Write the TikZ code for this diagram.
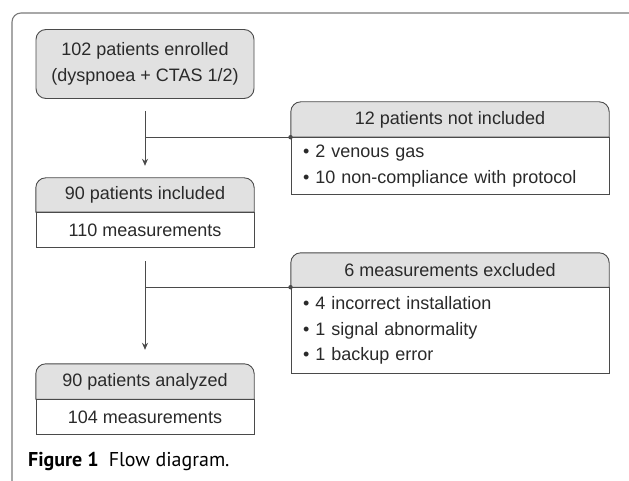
\documentclass[tikz,border=0pt]{standalone}
\usepackage{fontspec}
\setmainfont{Liberation Sans}
\newfontfamily\capfont{PT Sans}
\usetikzlibrary{arrows.meta}
\definecolor{hdrgray}{HTML}{E1E1E1}
\definecolor{linegray}{HTML}{4A4A4A}
\definecolor{framegray}{HTML}{7A7A7A}
\definecolor{txtgray}{HTML}{2A2A2A}
\tikzset{
  boxtext/.style={font=\fontsize{18}{25.5}\selectfont, text=txtgray},
  hdrbox/.style={boxtext, minimum width=218pt, inner sep=0pt},
  bodybox/.style={boxtext, draw=linegray, line width=0.9pt, fill=white, inner sep=0pt},
  listbox/.style={boxtext, draw=linegray, line width=0.9pt, fill=white, inner xsep=12pt, inner ysep=0pt, align=left},
  outl/.style={draw=linegray, line width=0.9pt, fill=hdrgray},
  flowarrow/.style={draw=linegray, line width=0.9pt, -{Stealth[length=7pt,width=6pt]}},
  branch/.style={draw=linegray, line width=0.9pt},
}
\begin{document}
\begin{tikzpicture}[x=1pt,y=-1pt]
\clip (0,0) rectangle (629,481);
\fill[white] (0,0) rectangle (629,481);
% frame
\draw[framegray, line width=1.1pt, rounded corners=9pt] (12,490) -- (12,13) -- (640,13);

% box 1
\node[boxtext, draw=linegray, line width=0.9pt, fill=hdrgray, rounded corners=10pt,
      minimum width=218pt, minimum height=69pt, align=center, inner sep=0pt]
      (b1) at (145,64) {102 patients enrolled\\(dyspnoea + CTAS 1/2)};

% box 3: included
\node[hdrbox, minimum height=34pt] (h2) at (145,195) {};
\draw[outl] (h2.south west) [rounded corners=10pt] -- (h2.north west) -- (h2.north east) [sharp corners] -- (h2.south east) -- cycle;
\node[boxtext] at (h2.center) {90 patients included};
\node[bodybox, minimum width=218pt, minimum height=35pt, anchor=north] (m2) at (h2.south) {110 measurements};

% box 5: analyzed
\node[hdrbox, minimum height=35pt] (h3) at (145,381.5) {};
\draw[outl] (h3.south west) [rounded corners=10pt] -- (h3.north west) -- (h3.north east) [sharp corners] -- (h3.south east) -- cycle;
\node[boxtext] at (h3.center) {90 patients analyzed};
\node[bodybox, minimum width=218pt, minimum height=35pt, anchor=north] (m3) at (h3.south) {104 measurements};

% box 2: not included
\node[hdrbox, minimum width=318pt, minimum height=35pt] (x1h) at (450,119.5) {};
\draw[outl] (x1h.south west) [rounded corners=10pt] -- (x1h.north west) -- (x1h.north east) [sharp corners] -- (x1h.south east) -- cycle;
\node[boxtext] at (x1h.center) {12 patients not included};
\node[listbox, minimum width=318pt, text width=294pt, minimum height=57pt, anchor=north] (x1b) at (x1h.south)
  {\textbullet\ 2 venous gas\\\textbullet\ 10 non-compliance with protocol};

% box 4: excluded
\node[hdrbox, minimum width=318pt, minimum height=34pt] (x2h) at (450,270) {};
\draw[outl] (x2h.south west) [rounded corners=10pt] -- (x2h.north west) -- (x2h.north east) [sharp corners] -- (x2h.south east) -- cycle;
\node[boxtext] at (x2h.center) {6 measurements excluded};
\node[listbox, minimum width=318pt, text width=294pt, minimum height=86pt, anchor=north] (x2b) at (x2h.south)
  {\textbullet\ 4 incorrect installation\\\textbullet\ 1 signal abnormality\\\textbullet\ 1 backup error};

% connectors
\draw[flowarrow, shorten <=12pt, shorten >=12pt] (b1.south) -- (h2.north);
\draw[branch] (b1.south |- x1b.north west) -- (x1b.north west);
\fill[linegray] (x1b.north west) circle (2.2pt);

\draw[flowarrow, shorten <=13pt, shorten >=14pt] (m2.south) -- (h3.north);
\draw[branch] (m2.south |- x2b.north west) -- (x2b.north west);
\fill[linegray] (x2b.north west) circle (2.2pt);

% caption
\node[anchor=base west, inner sep=0pt, font=\capfont\fontsize{20}{24}\selectfont] (cap) at (28,466)
  {\textbf{Figure 1}\hspace{0.5em}Flow diagram.};
\end{tikzpicture}
\end{document}
